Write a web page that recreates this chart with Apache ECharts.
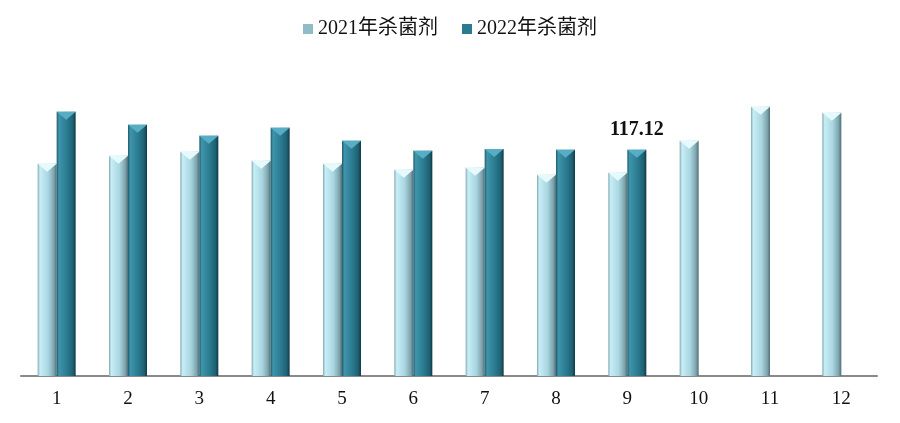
<!DOCTYPE html>
<html><head><meta charset="utf-8">
<script src="https://cdn.jsdelivr.net/npm/echarts@6/dist/echarts.min.js"></script>
<style>html,body{margin:0;padding:0;background:#fff}#c{width:900px;height:423px}</style>
</head><body><div id="c"></div>
<script>
const months = ['1','2','3','4','5','6','7','8','9','10','11','12'];
const seriesNames = ['2021年杀菌剂','2022年杀菌剂'];
const values2021 = [109.9,114.0,116.1,111.4,109.9,106.8,107.8,104.2,105.2,121.8,139.4,136.3];
const values2022 = [136.8,130.1,124.4,128.5,121.8,116.6,117.6,117.1,117.12,null,null,null];
const labelIndex = 8;

const serif = '"Liberation Serif","Times New Roman","Noto Sans CJK SC",serif';
const grad = (c) => new echarts.graphic.LinearGradient(0,0,1,0,[
  {offset:0,color:c[0]},{offset:0.12,color:c[1]},{offset:0.55,color:c[2]},{offset:0.85,color:c[3]},{offset:1,color:c[4]}]);
const c21 = ['#7fa9b2','#c8eef6','#a9d6e1','#7fa5ae','#4f6f77'];
const c22 = ['#1d5a6b','#3f95ab','#2a7a90','#1f6173','#0f3a47'];

const chart = echarts.init(document.getElementById('c'));
chart.setOption({
  backgroundColor:'#fff',
  animation:false,
  legend:{
    top:14, left:'center', itemWidth:10, itemHeight:10, itemGap:24,
    icon:'rect',
    textStyle:{fontFamily:serif, fontSize:20, color:'#111'},
    data:[{name:seriesNames[0], itemStyle:{color:'#8fbcc6'}},{name:seriesNames[1], itemStyle:{color:'#2a7a90'}}]
  },
  grid:{left:21,right:23,top:67,bottom:47},
  xAxis:{type:'category', data:months,
    axisLine:{lineStyle:{color:'#8a8a8a',width:2}},
    axisTick:{show:false},
    axisLabel:{fontFamily:serif,fontSize:19,color:'#111',margin:14}},
  yAxis:{type:'value',min:0,max:160,show:false,splitLine:{show:false}},
  series:[
    {name:seriesNames[0],type:'bar',data:values2021,barWidth:19,barGap:'0%',
     itemStyle:{color:grad(c21)}},
    {name:seriesNames[1],type:'bar',data:values2022.map((v,i)=>i===labelIndex?{value:v,label:{show:true}}:v),barWidth:19,barGap:'0%',
     itemStyle:{color:grad(c22)},
     label:{show:false,position:'top',distance:10,fontFamily:serif,fontWeight:'bold',fontSize:20,color:'#111',formatter:p=>p.value.toFixed(2)}},
    {type:'pictorialBar',data:values2021,symbol:'triangle',symbolRotate:180,symbolSize:[19,8],
     symbolPosition:'end',symbolOffset:['-50%',0],z:5,silent:true,legendHoverLink:false,
     itemStyle:{color:'#e6fafd'},tooltip:{show:false}},
    {type:'pictorialBar',data:values2022,symbol:'triangle',symbolRotate:180,symbolSize:[19,8],
     symbolPosition:'end',symbolOffset:['50%',0],z:5,silent:true,legendHoverLink:false,
     itemStyle:{color:'#57aec4'},tooltip:{show:false}}
  ]
});
</script></body></html>
